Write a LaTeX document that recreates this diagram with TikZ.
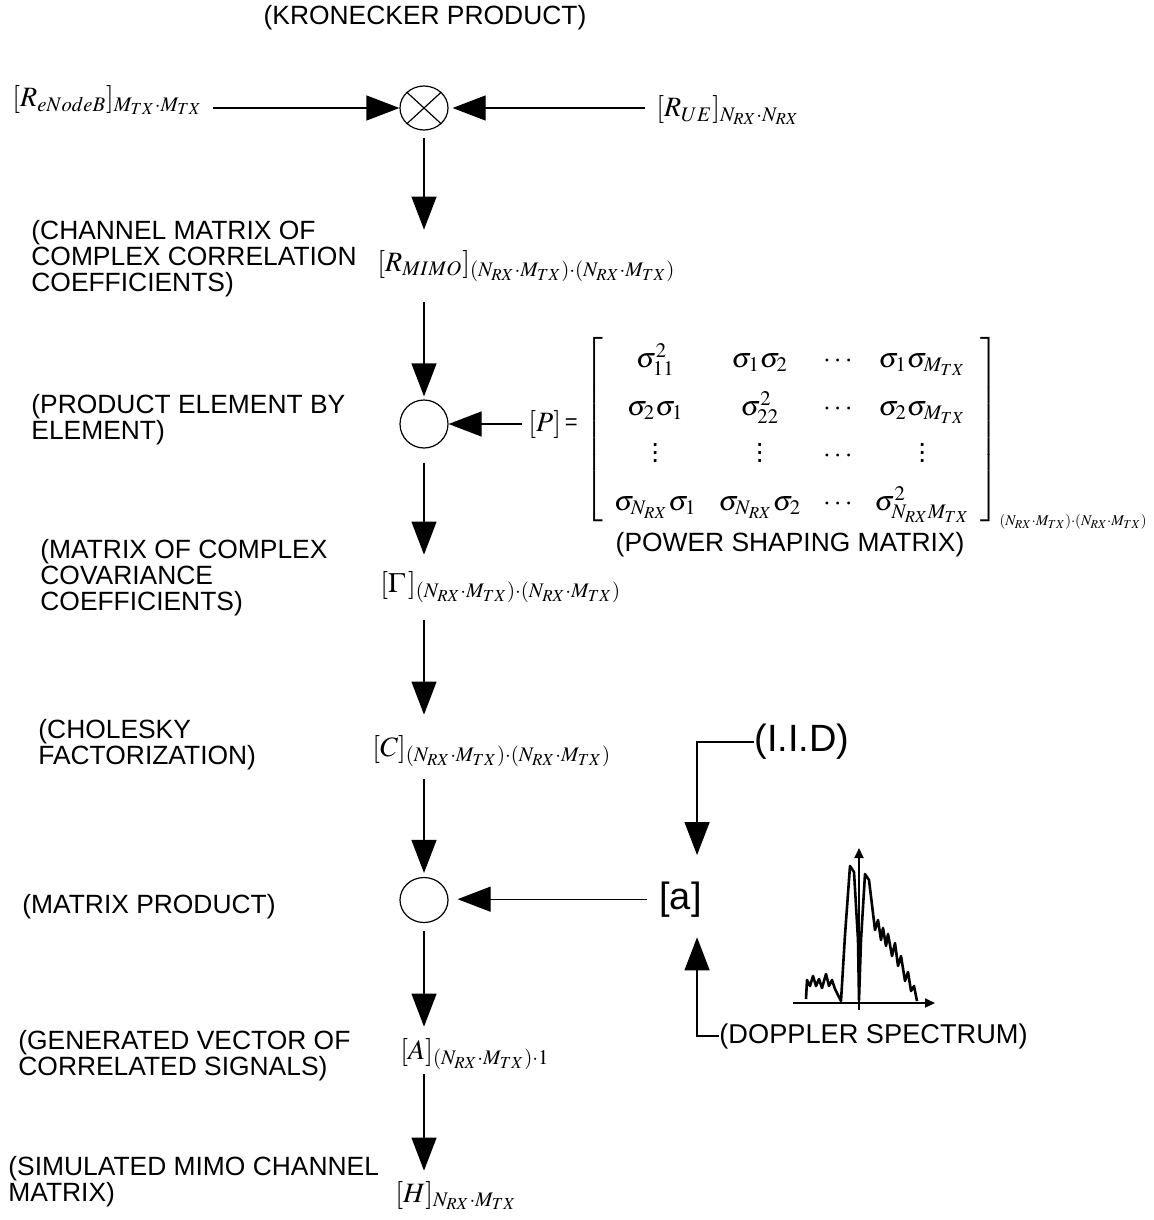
\documentclass[tikz,border=0pt]{standalone}
\usepackage{mathptmx}
\usepackage{fontspec}
\setmainfont{Liberation Sans}
\usetikzlibrary{positioning, arrows.meta, calc, shapes.geometric}

\begin{document}
\begin{tikzpicture}[
    x=0.5pt, y=-0.5pt,
    junction/.style={ellipse, draw, line width=0.6pt, inner sep=0pt,
                     minimum width=24pt, minimum height=23pt},
    expr/.style={inner sep=0pt, anchor=base west, font=\fontsize{14}{17}\selectfont},
    stage/.style={expr, text height=10.5pt, text depth=3.5pt},
    caption/.style={inner sep=0pt, anchor=west, align=left,
                    font=\fontsize{13.2}{13}\selectfont},
    big/.style={inner sep=0pt, font=\fontsize{19}{22}\selectfont},
    flow/.style={-{Triangle[length=16.5pt, width=12.5pt]}, line width=0.6pt},
    axis/.style={-{Triangle[length=5pt, width=4.5pt]}, line width=1pt}
  ]
    \useasboundingbox (0,0) rectangle (1153,1220);

    % Kronecker stage
    \node[caption, anchor=center] (kronlbl) at (425,18) {(KRONECKER PRODUCT)};
    \node[junction, minimum height=22pt] (kron) at (424,108) {};
    \draw[line width=0.6pt] (kron.north west) -- (kron.south east)
                            (kron.north east) -- (kron.south west);
    \node[stage] (renb) at (12,107) {$[R_{eNodeB}]_{M_{TX}\cdot M_{TX}}$};
    \node[stage] (rue) at (656,117) {$[R_{UE}]_{N_{RX}\cdot N_{RX}}$};
    \draw[flow, shorten <=5pt] (renb.east |- kron) -- (kron.west);
    \draw[flow, shorten <=5.5pt, shorten >=2pt] (rue.west |- kron) -- (kron.east);

    % correlation matrix
    \node[stage] (rmimo) at (377,271) {$[R_{MIMO}]_{(N_{RX}\cdot M_{TX})\cdot(N_{RX}\cdot M_{TX})}$};
    \node[caption] (rmimolbl) at (31,259) {(CHANNEL MATRIX OF\\COMPLEX CORRELATION\\COEFFICIENTS)};
    \draw[flow, shorten <=3.5pt, shorten >=10pt] (kron) -- (kron |- rmimo.north);

    % element by element product
    \node[junction, minimum height=24pt] (prod) at (424,424) {};
    \node[caption] (prodlbl) at (31,420) {(PRODUCT ELEMENT BY\\ELEMENT)};
    \draw[flow, shorten <=12pt, shorten >=1.5pt] (kron |- rmimo.south) -- (prod);

    \node[stage] (pvar) at (528,431) {$[P]$};
    \node[inner sep=0pt, right=1.5pt of pvar, font=\fontsize{11}{13}\selectfont] (peq) {=};
    \node[expr, anchor=west] (pmat) at (584,432) {\arraycolsep=5.5pt\renewcommand{\arraystretch}{1.4}%
      $\left[\begin{array}{cccc}
        \sigma_{11}^{2} & \sigma_{1}\sigma_{2} & \cdots & \sigma_{1}\sigma_{M_{TX}}\\
        \sigma_{2}\sigma_{1} & \sigma_{22}^{2} & \cdots & \sigma_{2}\sigma_{M_{TX}}\\
        \vdots & \vdots & \cdots & \vdots\\
        \sigma_{N_{RX}}\sigma_{1} & \sigma_{N_{RX}}\sigma_{2} & \cdots & \sigma_{N_{RX}M_{TX}}^{2}
      \end{array}\right]_{\scalebox{0.72}{$\scriptstyle(N_{RX}\cdot M_{TX})\cdot(N_{RX}\cdot M_{TX})$}}$};
    \node[caption, anchor=center] (pmatlbl) at (790,545) {(POWER SHAPING MATRIX)};
    \draw[flow, shorten <=3pt] (pvar.west) -- (pvar.west -| prod.east);

    % covariance
    \node[stage] (gam) at (380,592) {$[\Gamma\,]_{(N_{RX}\cdot M_{TX})\cdot(N_{RX}\cdot M_{TX})}$};
    \node[caption] (gamlbl) at (40,578) {(MATRIX OF COMPLEX\\COVARIANCE\\COEFFICIENTS)};
    \draw[flow, shorten <=7pt, shorten >=8pt] (prod) -- (prod |- gam.north);

    % Cholesky
    \node[stage] (chol) at (372,756) {$[C]_{(N_{RX}\cdot M_{TX})\cdot(N_{RX}\cdot M_{TX})}$};
    \node[caption] (chollbl) at (38,745) {(CHOLESKY\\FACTORIZATION)};
    \draw[flow, shorten <=10.5pt, shorten >=10pt] (prod |- gam.south) -- (prod |- chol.north);

    % matrix product
    \node[junction, minimum height=22.5pt] (mprod) at (424,900) {};
    \node[caption] (mprodlbl) at (22,907) {(MATRIX PRODUCT)};
    \draw[flow, shorten <=8pt, shorten >=2pt] (prod |- chol.south) -- (mprod);

    \node[big, anchor=base west] (avar) at (659,909) {[a]};
    \draw[flow, shorten <=6pt, shorten >=4.5pt] (avar.west) -- (avar.west -| mprod.east);
    \node[big, anchor=west] (iid) at (754,742) {(I.I.D)};
    \node[caption, font=\fontsize{13.6}{14}\selectfont] (dop) at (719,1036) {(DOPPLER SPECTRUM)};
    \coordinate (atop) at ([xshift=-2.5pt]avar.north east);
    \coordinate (abot) at ([xshift=-2.5pt]avar.south east);
    \draw[flow, shorten >=13pt] (iid.west) -| (atop);
    \draw[flow, shorten >=10pt] (dop.west) -| (abot);

    % doppler sketch
    \draw[axis] (793,1003) -- (935,1003);
    \draw[axis] (859,1010) -- (859,848);
    \draw[line width=1.3pt, line join=round] plot coordinates {
      (806,999) (807,980) (810,986) (813,976) (816,986) (819,979) (822,988)
      (826,974) (829,986) (832,980) (835,989) (838,995) (841,1001)
      (845,935) (850,866) (854,872) (858,940) (859,1000) (861,940) (865,874) (869,880)
      (872,905) (875,930) (878,920) (881,940) (883,928) (886,946) (888,934)
      (892,956) (895,943) (898,966) (901,956) (905,981) (908,972)
      (911,991) (914,986) (917,1001)};

    % generated vector
    \node[stage] (avec) at (400,1059) {$[A]_{(N_{RX}\cdot M_{TX})\cdot 1}$};
    \node[caption] (aveclbl) at (18,1056) {(GENERATED VECTOR OF\\CORRELATED SIGNALS)};
    \draw[flow, shorten <=4pt, shorten >=5.5pt] (mprod) -- (mprod |- avec.north);

    % simulated channel
    \node[stage] (hmat) at (395,1202) {$[H]_{N_{RX}\cdot M_{TX}}$};
    \node[caption] (hmatlbl) at (8,1182) {(SIMULATED MIMO CHANNEL\\MATRIX)};
    \draw[flow, shorten <=4pt, shorten >=5pt] (mprod |- avec.south) -- (mprod |- hmat.north);
  \end{tikzpicture}
\end{document}
